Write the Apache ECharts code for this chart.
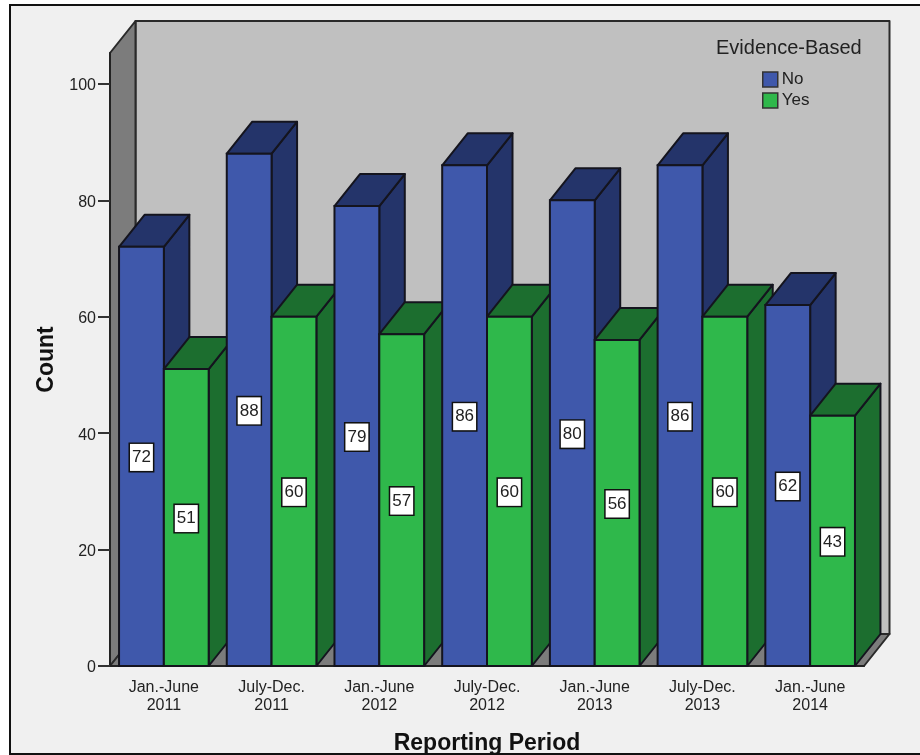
<!DOCTYPE html>
<html>
<head>
<meta charset="utf-8">
<style>
  html, body { margin: 0; padding: 0; background: #fff; }
  #chart { width: 920px; height: 755px; }
</style>
<script src="https://cdn.jsdelivr.net/npm/echarts@6/dist/echarts.min.js"></script>
</head>
<body>
<div id="chart"></div>
<script>
var categories = ['Jan.-June\n2011', 'July-Dec.\n2011', 'Jan.-June\n2012', 'July-Dec.\n2012', 'Jan.-June\n2013', 'July-Dec.\n2013', 'Jan.-June\n2014'];
var noValues = [72, 88, 79, 86, 80, 86, 62];
var yesValues = [51, 60, 57, 60, 56, 60, 43];
var yTicks = [0, 20, 40, 60, 80, 100];

var FONT = '"Liberation Sans", Arial, sans-serif';
var DEPTH_X = 25.5;
var DEPTH_Y = 32;
var EDGE = '#14141e';

// one 3d bar, slot 0 sits left of the category centre and slot 1 right of it
function renderBar(slot, front, dark) {
  return function (params, api) {
    var i = api.value(0);
    var val = api.value(1);
    var top = api.coord([i, val]);
    var base = api.coord([i, 0]);
    var w = api.size([1, 0])[0] * 0.416;
    var x0 = top[0] + (slot === 0 ? -w : 0);
    var x1 = x0 + w;
    var y0 = top[1];
    var y1 = base[1];
    var z = i * 4 + slot * 2;
    var edge = { fill: dark, stroke: EDGE, lineWidth: 2, lineJoin: 'round' };
    return {
      type: 'group',
      children: [
        {
          type: 'polygon', z2: z,
          shape: { points: [[x1, y0], [x1 + DEPTH_X, y0 - DEPTH_Y], [x1 + DEPTH_X, y1 - DEPTH_Y], [x1, y1]] },
          style: edge
        },
        {
          type: 'polygon', z2: z,
          shape: { points: [[x0, y0], [x0 + DEPTH_X, y0 - DEPTH_Y], [x1 + DEPTH_X, y0 - DEPTH_Y], [x1, y0]] },
          style: edge
        },
        {
          type: 'rect', z2: z,
          shape: { x: x0, y: y0, width: w, height: y1 - y0 },
          style: { fill: front, stroke: EDGE, lineWidth: 2 }
        },
        {
          type: 'text', z2: 100,
          x: (x0 + x1) / 2,
          y: (y0 + y1) / 2 + 1,
          style: {
            text: String(val),
            font: '17px ' + FONT,
            fill: '#222',
            align: 'center',
            verticalAlign: 'middle',
            backgroundColor: '#fff',
            borderColor: '#111',
            borderWidth: 1.5,
            padding: [5, 2, 5, 2]
          }
        }
      ]
    };
  };
}

// back wall, left wall and floor of the box
function renderWalls(params, api) {
  var c = params.coordSys;
  var l = c.x, t = c.y, r = c.x + c.width, b = c.y + c.height;
  var line = { stroke: '#2a2a2a', lineWidth: 2, lineJoin: 'round' };
  return {
    type: 'group',
    children: [
      {
        type: 'rect', z2: -3,
        shape: { x: l + DEPTH_X, y: t - DEPTH_Y, width: c.width, height: c.height },
        style: Object.assign({ fill: '#c0c0c0' }, line)
      },
      {
        type: 'polygon', z2: -2,
        shape: { points: [[l, t], [l + DEPTH_X, t - DEPTH_Y], [l + DEPTH_X, b - DEPTH_Y], [l, b]] },
        style: Object.assign({ fill: '#7c7c7c' }, line)
      },
      {
        type: 'polygon', z2: -2,
        shape: { points: [[l, b], [l + DEPTH_X, b - DEPTH_Y], [r + DEPTH_X, b - DEPTH_Y], [r, b]] },
        style: Object.assign({ fill: '#7c7c7c' }, line)
      }
    ]
  };
}

var chart = echarts.init(document.getElementById('chart'));

var option = {
  animation: false,
  textStyle: { fontFamily: FONT },
  graphic: [
    {
      type: 'rect', silent: true, z: -10,
      shape: { x: 10, y: 5, width: 915, height: 749 },
      style: { fill: '#f0f0f0', stroke: '#111', lineWidth: 2 }
    }
  ],
  title: {
    text: 'Evidence-Based',
    left: 716,
    top: 38,
    padding: 0,
    textStyle: { fontFamily: FONT, fontSize: 20, fontWeight: 'normal', color: '#222' }
  },
  legend: {
    orient: 'vertical',
    left: 762,
    top: 71,
    padding: 0,
    itemWidth: 15,
    itemHeight: 15,
    itemGap: 4,
    icon: 'rect',
    data: ['No', 'Yes'],
    itemStyle: { borderColor: '#333', borderWidth: 1.5 },
    textStyle: { fontFamily: FONT, fontSize: 17, color: '#222', padding: [1, 0, 0, -1] }
  },
  grid: { left: 110, top: 53, width: 754, height: 613, outerBoundsMode: 'none' },
  xAxis: {
    type: 'category',
    data: categories,
    name: 'Reporting Period',
    nameLocation: 'middle',
    nameGap: 66,
    nameTextStyle: { fontFamily: FONT, fontSize: 23, fontWeight: 'bold', color: '#111' },
    axisLine: { lineStyle: { color: '#222', width: 2 } },
    axisTick: { alignWithLabel: true, length: 11, lineStyle: { color: '#333', width: 2 } },
    axisLabel: { fontFamily: FONT, fontSize: 16, color: '#222', margin: 13, lineHeight: 18, interval: 0 }
  },
  yAxis: {
    type: 'value',
    min: 0,
    max: 105.3,
    name: 'Count',
    nameLocation: 'middle',
    nameRotate: 90,
    nameGap: 52,
    nameTextStyle: { fontFamily: FONT, fontSize: 23, fontWeight: 'bold', color: '#111' },
    splitLine: { show: false },
    axisLine: { show: true, lineStyle: { color: '#222', width: 2 } },
    axisTick: { show: true, length: 12, customValues: yTicks, lineStyle: { color: '#333', width: 2 } },
    axisLabel: { fontFamily: FONT, fontSize: 16, color: '#222', margin: 14, verticalAlign: 'top', padding: [-6, 0, 0, 0], customValues: yTicks }
  },
  series: [
    {
      type: 'custom',
      silent: true,
      renderItem: renderWalls,
      data: [[0, 0]],
      clip: false,
      z: 0
    },
    {
      name: 'No',
      type: 'custom',
      silent: true,
      itemStyle: { color: '#3f58ab' },
      renderItem: renderBar(0, '#3f58ab', '#24346a'),
      encode: { x: 0, y: 1 },
      data: noValues.map(function (v, i) { return [i, v]; }),
      z: 2
    },
    {
      name: 'Yes',
      type: 'custom',
      silent: true,
      itemStyle: { color: '#2fb84b' },
      renderItem: renderBar(1, '#2fb84b', '#1c6e2f'),
      encode: { x: 0, y: 1 },
      data: yesValues.map(function (v, i) { return [i, v]; }),
      z: 2
    }
  ]
};

chart.setOption(option);
</script>
</body>
</html>
